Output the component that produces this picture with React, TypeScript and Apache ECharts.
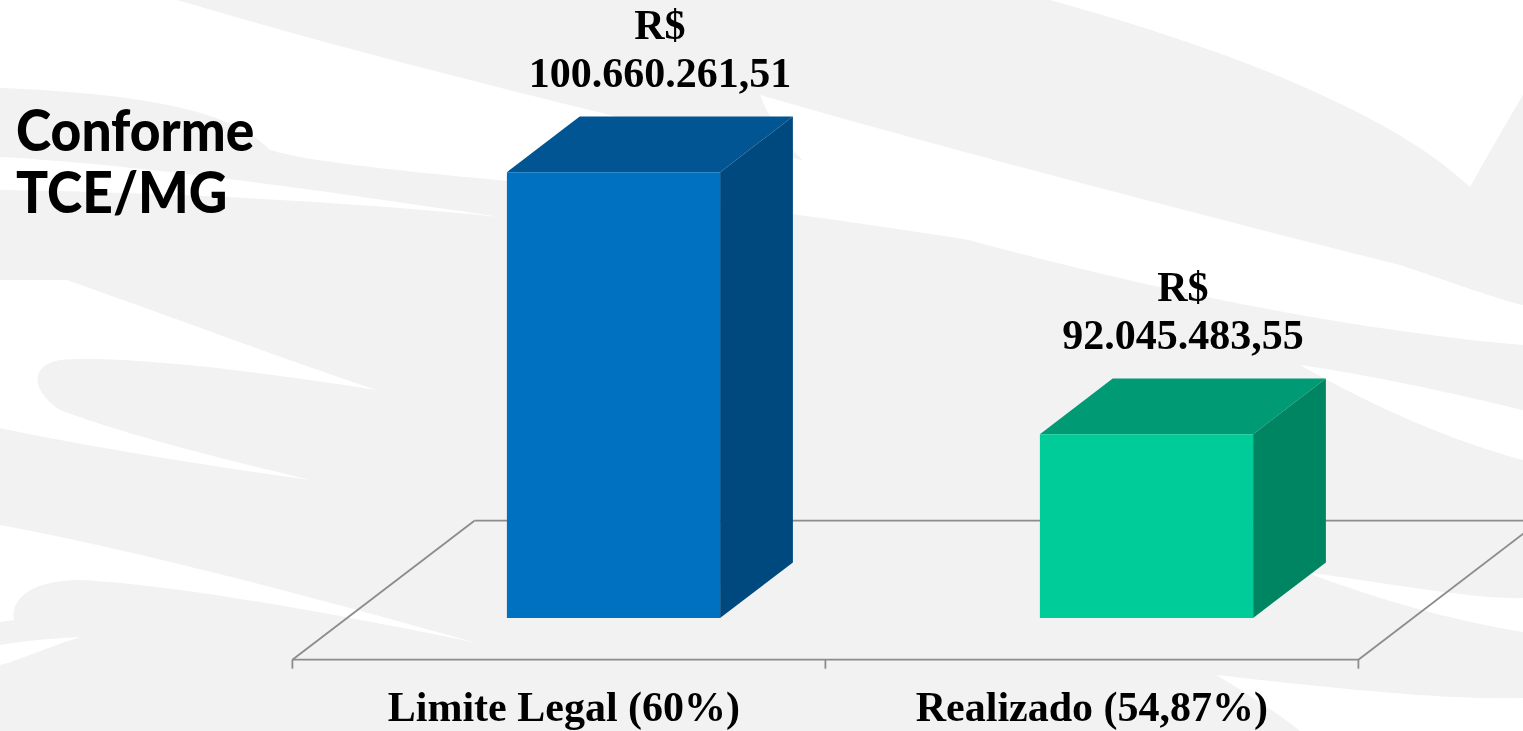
import React, { useEffect, useRef } from "react";
import * as echarts from "echarts";

// ---------- data ----------
const categories = ["Limite Legal (60%)", "Realizado (54,87%)"];
const values = [100660261.51, 92045483.55];
const axisMin = 86000000;
const axisMax = 102000000;
const currencyPrefix = "R$";
const titleLines = ["Conforme", "TCE/MG"];

// ---------- styles ----------
const faceColors = [
  { front: "#0070C0", top: "#005592", side: "#00497E" },
  { front: "#00CC99", top: "#009B74", side: "#008562" },
];
const FLOOR_DX = 182;
const FLOOR_DY = -139;
const BAR_START = 0.3;
const BAR_DEPTH = 0.4;
const LINE_COLOR = "#8c8c8c";
const SERIF = "'Liberation Serif', 'Times New Roman', serif";

function formatBR(v: number): string {
  const parts = v.toFixed(2).split(".");
  const intPart = parts[0].replace(/\B(?=(\d{3})+(?!\d))/g, ".");
  return intPart + "," + parts[1];
}

// background swooshes (decoration only)
const swooshPaths = [
  "M0,0 L177,0 C330,45 520,95 760,150 C950,195 1100,240 1230,285 C1050,250 820,215 600,190 C450,175 320,165 270,150 C240,120 180,95 0,88 Z",
  "M1050,0 L1523,0 L1523,95 C1505,125 1485,160 1470,187 C1400,120 1250,55 1050,0 Z",
  "M760,95 C950,150 1200,215 1400,265 C1460,285 1500,300 1523,305 L1523,345 C1350,330 1150,290 950,235 C850,205 790,170 760,95 Z",
  "M0,157 C150,165 350,195 500,217 C330,200 150,192 0,190 Z",
  "M0,280 L67,280 C180,320 300,365 377,390 C250,370 120,355 60,360 C30,365 30,390 60,410 C140,440 250,465 310,480 C200,465 80,445 0,428 Z",
  "M0,525 C160,555 340,605 477,643 C340,615 180,585 80,580 C30,580 10,600 14,620 L0,622 Z",
  "M0,645 C30,640 60,638 80,637 C40,650 20,660 0,665 Z",
  "M1216,675 C1350,690 1450,700 1523,698 L1523,731 L1300,731 C1280,715 1250,695 1216,675 Z",
  "M1305,572 C1400,585 1480,600 1523,598 L1523,632 C1450,620 1380,600 1305,572 Z",
  "M1300,365 C1400,380 1480,400 1523,410 L1523,460 C1450,440 1380,410 1300,365 Z",
];
swooshPaths.forEach((d, i) => {
  echarts.graphic.registerShape("swoosh" + i, echarts.graphic.extendPath(d, {}));
});

export default function App() {
  const ref = useRef<HTMLDivElement>(null);

  useEffect(() => {
    if (!ref.current) return;
    const chart = echarts.init(ref.current, null, { renderer: "svg" });

    const floorRender = (params: any, api: any) => {
      const band = api.size([1, 0])[0];
      const first = api.coord([0, axisMin]);
      const last = api.coord([categories.length - 1, axisMin]);
      const fx = -BAR_START * FLOOR_DX;
      const fy = -BAR_START * FLOOR_DY;
      const left = first[0] - band / 2 + fx;
      const right = last[0] + band / 2 + fx;
      const y = first[1] + fy;
      const style = { stroke: LINE_COLOR, lineWidth: 1.8, fill: "none" };
      const children: any[] = [
        { type: "line", shape: { x1: left + FLOOR_DX, y1: y + FLOOR_DY, x2: right + FLOOR_DX, y2: y + FLOOR_DY }, style },
        { type: "line", shape: { x1: left, y1: y, x2: left + FLOOR_DX, y2: y + FLOOR_DY }, style },
        { type: "line", shape: { x1: right, y1: y, x2: right + FLOOR_DX, y2: y + FLOOR_DY }, style },
        { type: "line", shape: { x1: left, y1: y, x2: right, y2: y }, style },
      ];
      for (let i = 0; i <= categories.length; i++) {
        const tx = left + band * i;
        children.push({ type: "line", shape: { x1: tx, y1: y, x2: tx, y2: y + 9 }, style });
      }
      return { type: "group", children };
    };

    const barRender = (params: any, api: any) => {
      const idx = api.value(0);
      const v = api.value(1);
      const top = api.coord([idx, v]);
      const bot = api.coord([idx, axisMin]);
      const band = api.size([1, 0])[0];
      const bw = band * 0.4;
      const x0 = top[0] - bw / 2;
      const x1 = top[0] + bw / 2;
      const dx = BAR_DEPTH * FLOOR_DX;
      const dy = BAR_DEPTH * FLOOR_DY;
      const c = faceColors[idx % faceColors.length];
      const backTop = top[1] + dy;
      const labelX = top[0] + dx / 2 + (idx === 0 ? 10 : 0);
      return {
        type: "group",
        children: [
          {
            type: "polygon",
            shape: { points: [[x0, top[1]], [x1, top[1]], [x1 + dx, top[1] + dy], [x0 + dx, top[1] + dy]] },
            style: { fill: c.top },
          },
          {
            type: "polygon",
            shape: { points: [[x1, top[1]], [x1 + dx, top[1] + dy], [x1 + dx, bot[1] + dy], [x1, bot[1]]] },
            style: { fill: c.side },
          },
          {
            type: "rect",
            shape: { x: x0, y: top[1], width: bw, height: bot[1] - top[1] },
            style: { fill: c.front },
          },
          {
            type: "text",
            x: labelX,
            y: backTop - 91.5,
            style: { text: currencyPrefix, fill: "#000", font: "bold 42px " + SERIF, align: "center", verticalAlign: "middle" },
          },
          {
            type: "text",
            x: labelX,
            y: backTop - 43.5,
            style: { text: formatBR(v), fill: "#000", font: "bold 42px " + SERIF, align: "center", verticalAlign: "middle" },
          },
          {
            type: "text",
            x: bot[0] - BAR_START * FLOOR_DX + (idx === 0 ? 5 : 0),
            y: bot[1] - BAR_START * FLOOR_DY + 47,
            style: { text: categories[idx], fill: "#000", font: "bold 42px " + SERIF, align: "center", verticalAlign: "middle" },
          },
        ],
      };
    };

    const graphics: any[] = [
      { type: "rect", shape: { x: 0, y: 0, width: 1523, height: 731 }, style: { fill: "#f2f2f2" }, z: -10, silent: true },
      ...swooshPaths.map((_, i) => ({ type: "swoosh" + i, x: 0, y: 0, style: { fill: "#ffffff" }, z: -9, silent: true })),
      {
        type: "text",
        left: 16,
        top: 98,
        scaleX: 0.92,
        style: {
          text: titleLines.join("\n"),
          fill: "#000",
          font: "900 58px Lato, 'DejaVu Sans', sans-serif",
          lineHeight: 62,
        },
        z: 10,
      },
    ];

    chart.setOption({
      animation: false,
      grid: { left: 347, right: 110, top: 131.4, bottom: 113 },
      xAxis: { type: "category", data: categories, show: false },
      yAxis: { type: "value", min: axisMin, max: axisMax, show: false },
      graphic: graphics,
      series: [
        {
          type: "custom",
          data: [[0, axisMin]],
          encode: { x: 0, y: 1 },
          renderItem: floorRender,
          silent: true,
          z: 1,
        },
        {
          type: "custom",
          data: values.map((v, i) => [i, v]),
          encode: { x: 0, y: 1 },
          renderItem: barRender,
          silent: true,
          z: 2,
        },
      ],
    });

    return () => chart.dispose();
  }, []);

  return (
    <div
      ref={ref}
      style={{ position: "fixed", left: 0, top: 0, width: "1523px", height: "731px" }}
    />
  );
}
